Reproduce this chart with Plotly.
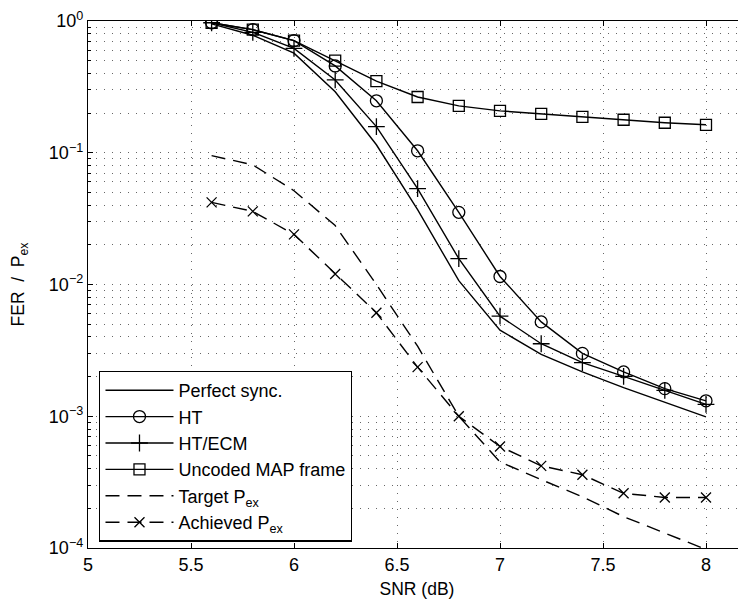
import plotly.graph_objects as go

snr = [5.6, 5.8, 6.0, 6.2, 6.4, 6.6, 6.8, 7.0, 7.2, 7.4, 7.6, 7.8, 8.0]
perfect_sync = [0.95, 0.78, 0.57, 0.29, 0.115, 0.037, 0.0107, 0.0045, 0.00295, 0.00217, 0.00165, 0.00128, 0.00099]
ht = [0.97, 0.86, 0.71, 0.456, 0.248, 0.1035, 0.0353, 0.0115, 0.0052, 0.0030, 0.00217, 0.00162, 0.00131]
ht_ecm = [0.97, 0.82, 0.62, 0.357, 0.158, 0.0535, 0.0157, 0.00575, 0.00355, 0.00255, 0.00201, 0.00157, 0.00123]
uncoded_map = [0.97, 0.86, 0.71, 0.50, 0.35, 0.265, 0.227, 0.208, 0.197, 0.187, 0.178, 0.169, 0.163]
target_pex = [0.095, 0.081, 0.0515, 0.028, 0.0100, 0.0034, 0.0010, 0.00045, 0.00033, 0.000245, 0.000173, 0.000129, 0.0000975]
achieved_pex = [0.042, 0.0359, 0.024, 0.012, 0.0061, 0.00236, 0.0010, 0.00059, 0.00042, 0.00036, 0.00026, 0.000242, 0.000242]

x_ticks = [5, 5.5, 6, 6.5, 7, 7.5, 8]
x_ticklabels = ["5", "5.5", "6", "6.5", "7", "7.5", "8"]
y_ticks = [1e-4, 1e-3, 1e-2, 1e-1, 1]
y_ticklabels = ["10<sup>\u22124</sup>", "10<sup>\u22123</sup>", "10<sup>\u22122</sup>",
                "10<sup>\u22121</sup>", "10<sup>0</sup>"]
y_minor = [m * d for d in [1e-4, 1e-3, 1e-2, 1e-1] for m in range(2, 10)]

FONT = "Liberation Sans, Arial, Helvetica, sans-serif"
BLK = "black"
LW = 1.4

fig = go.Figure()

def add(y, name, symbol=None, dash="solid", msize=11):
    mode = "lines+markers" if symbol else "lines"
    kw = {}
    if symbol:
        kw["marker"] = dict(symbol=symbol, size=msize, color=BLK,
                            line=dict(color=BLK, width=1.3))
    fig.add_trace(go.Scatter(
        x=snr, y=y, name=name, mode=mode,
        line=dict(color=BLK, width=LW, dash=dash), **kw))

add(perfect_sync, "Perfect sync.")
add(ht, "HT", "circle-open", msize=12)
add(ht_ecm, "HT/ECM", "cross-thin-open", msize=12)
add(uncoded_map, "Uncoded MAP frame", "square-open", msize=11)
add(target_pex, "Target P<sub>ex</sub>", dash="14px,8px")
add(achieved_pex, "Achieved P<sub>ex</sub>", "x-thin-open", dash="14px,8px", msize=10)

fig.update_layout(
    width=738, height=591,
    margin=dict(l=80, r=0, t=13, b=51),
    paper_bgcolor="white", plot_bgcolor="white",
    font=dict(family=FONT, size=18, color=BLK),
    showlegend=True,
    legend=dict(x=0.017, y=0.012, xanchor="left", yanchor="bottom",
                bgcolor="white", bordercolor=BLK, borderwidth=1.3,
                font=dict(family=FONT, size=18, color=BLK),
                tracegroupgap=0, itemwidth=68),
)

fig.update_xaxes(
    range=[5, 5 + 658 / 206], tickmode="array", tickvals=x_ticks, ticktext=x_ticklabels,
    showline=True, linecolor=BLK, linewidth=1.3, mirror="ticks",
    ticks="inside", ticklen=5, tickcolor=BLK, tickwidth=1,
    showgrid=True, gridcolor="#666", griddash="1px,7px", gridwidth=1,
    zeroline=False, automargin=False,
    title=dict(text="SNR (dB)", standoff=10, font=dict(size=17.5)),
    tickfont=dict(size=18),
)
fig.update_yaxes(
    type="log", range=[-4, 0], tickmode="array", tickvals=y_ticks, ticktext=y_ticklabels,
    showline=True, linecolor=BLK, linewidth=1.3, mirror=False,
    ticks="inside", ticklen=5, tickcolor=BLK, tickwidth=1,
    showgrid=True, gridcolor="#666", griddash="1px,7px", gridwidth=1,
    zeroline=False, automargin=False,
    minor=dict(tickmode="array", tickvals=y_minor, ticks="inside", ticklen=3,
               tickcolor=BLK, showgrid=True, gridcolor="#666", griddash="1px,7px", gridwidth=1),
    title=dict(text="FER  /  P<sub>ex</sub>", standoff=24, font=dict(size=17.5)),
    tickfont=dict(size=18),
)

fig.write_html("out.html")
